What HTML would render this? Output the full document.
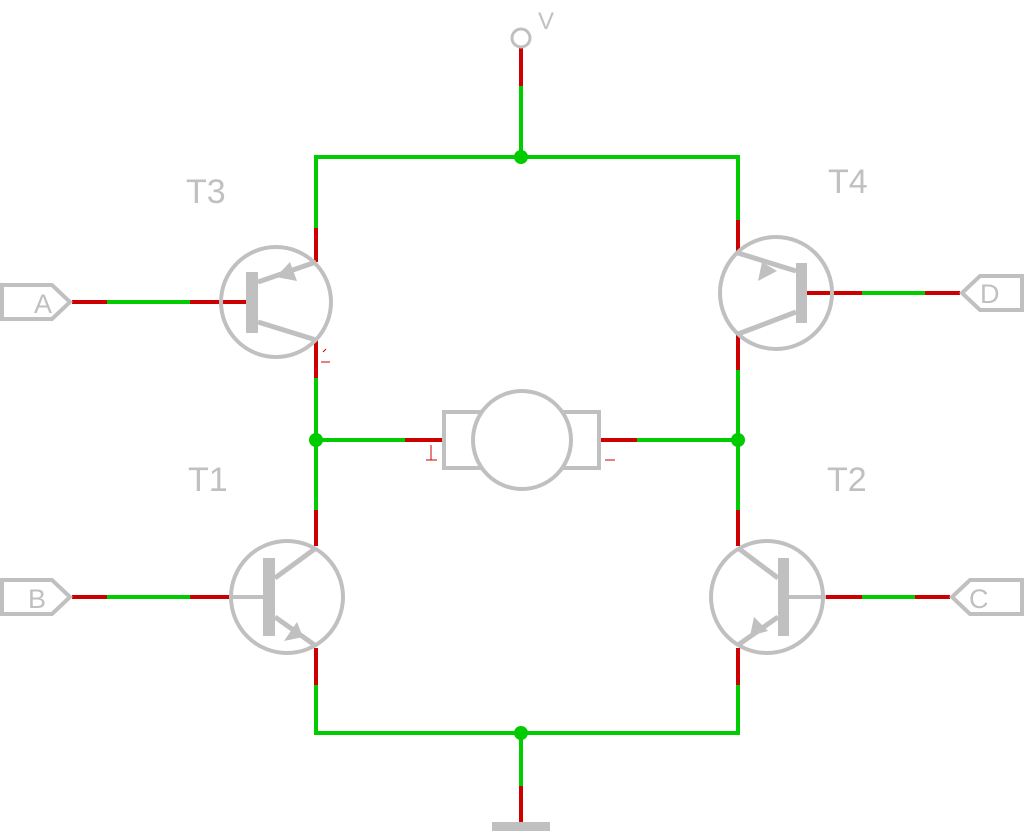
<!DOCTYPE html>
<html><head><style>html,body{margin:0;padding:0;background:#fff}svg{display:block}</style></head>
<body>
<svg width="1024" height="832" viewBox="0 0 1024 832" xmlns="http://www.w3.org/2000/svg" font-family="Liberation Sans, sans-serif">
<g stroke-width="4" fill="none" stroke-linecap="butt">
<g stroke="#00cc00">
<line x1="521" y1="86" x2="521" y2="157"/>
<line x1="316" y1="157" x2="738" y2="157"/>
<line x1="316" y1="155" x2="316" y2="228"/>
<line x1="738" y1="155" x2="738" y2="220"/>
<line x1="316" y1="378" x2="316" y2="510"/>
<line x1="738" y1="370" x2="738" y2="510"/>
<line x1="316" y1="440" x2="405" y2="440"/>
<line x1="637" y1="440" x2="738" y2="440"/>
<line x1="316" y1="685" x2="316" y2="735"/>
<line x1="738" y1="685" x2="738" y2="735"/>
<line x1="316" y1="733" x2="738" y2="733"/>
<line x1="521" y1="733" x2="521" y2="786"/>
<line x1="107" y1="302" x2="190" y2="302"/>
<line x1="107" y1="597" x2="190" y2="597"/>
<line x1="862" y1="293" x2="925" y2="293"/>
<line x1="862" y1="597" x2="915" y2="597"/>
</g>
<g stroke="#cc0000">
<line x1="521" y1="48" x2="521" y2="86"/>
<line x1="316" y1="228" x2="316" y2="262"/>
<line x1="316" y1="340" x2="316" y2="378"/>
<line x1="738" y1="220" x2="738" y2="253"/>
<line x1="738" y1="334" x2="738" y2="370"/>
<line x1="316" y1="510" x2="316" y2="546"/>
<line x1="316" y1="648" x2="316" y2="685"/>
<line x1="738" y1="510" x2="738" y2="546"/>
<line x1="738" y1="648" x2="738" y2="685"/>
<line x1="405" y1="440" x2="442" y2="440"/>
<line x1="601" y1="440" x2="637" y2="440"/>
<line x1="521" y1="786" x2="521" y2="822"/>
<line x1="72" y1="302" x2="107" y2="302"/>
<line x1="190" y1="302" x2="248" y2="302"/>
<line x1="72" y1="597" x2="107" y2="597"/>
<line x1="190" y1="597" x2="230" y2="597"/>
<line x1="807" y1="293" x2="862" y2="293"/>
<line x1="925" y1="293" x2="960" y2="293"/>
<line x1="826" y1="597" x2="862" y2="597"/>
<line x1="915" y1="597" x2="950" y2="597"/>
</g>
<g stroke="#cc0000" stroke-width="1">
<line x1="321" y1="362" x2="330" y2="362"/><line x1="323" y1="352" x2="326" y2="349"/><line x1="426" y1="460" x2="437" y2="460"/><line x1="431" y1="445" x2="431" y2="460"/><line x1="605" y1="460" x2="615" y2="460"/>
</g>
<g stroke="#c0c0c0">
<circle cx="521" cy="38" r="9" stroke-width="3"/>
<circle cx="276" cy="302" r="55"/>
<circle cx="287" cy="597" r="56"/>
<circle cx="776" cy="293" r="56"/>
<circle cx="767" cy="597" r="56"/>
<line x1="258" y1="282" x2="316" y2="262" stroke-width="5"/>
<line x1="258" y1="322" x2="316" y2="340" stroke-width="5"/>
<line x1="230" y1="597" x2="263" y2="597"/>
<line x1="275" y1="578" x2="316" y2="548" stroke-width="5"/>
<line x1="275" y1="617" x2="316" y2="646" stroke-width="5"/>
<line x1="738" y1="253" x2="796" y2="271" stroke-width="5"/>
<line x1="738" y1="334" x2="796" y2="312" stroke-width="5"/>
<line x1="789" y1="597" x2="826" y2="597"/>
<line x1="738" y1="548" x2="778" y2="578" stroke-width="5"/>
<line x1="778" y1="617" x2="738" y2="645" stroke-width="5"/>
<rect x="444" y="412" width="155" height="56"/>
<path d="M2 285 H52 L70 302 L52 319 H2 Z"/>
<path d="M2 580 H52 L70 597 L52 614 H2 Z"/>
<path d="M1022 276 H980 L962 293 L980 310 H1022 Z"/>
<path d="M1022 580 H970 L952 597 L970 614 H1022 Z"/>
</g>
<circle cx="522" cy="440" r="49" fill="#fff" stroke="#c0c0c0" stroke-width="4"/>
</g>
<g fill="#c0c0c0">
<rect x="246" y="272" width="12" height="61"/>
<rect x="263" y="558" width="12" height="78"/>
<rect x="796" y="263" width="11" height="60"/>
<rect x="778" y="558" width="11" height="78"/>
<rect x="492" y="822" width="58" height="9"/>
<polygon points="276,277 290,262 297,281"/>
<polygon points="303,637 284,641 297,622"/>
<polygon points="777,271 762,262 758,281"/>
<polygon points="750,636 754,617 768,631"/>
</g>
<g fill="#00cc00">
<circle cx="521" cy="157" r="7"/><circle cx="521" cy="733" r="7"/>
<circle cx="316" cy="440" r="7"/><circle cx="738" cy="440" r="7"/>
</g>
<g fill="#c0c0c0" font-size="34">
<text x="186" y="203">T3</text>
<text x="828" y="193">T4</text>
<text x="188" y="491">T1</text>
<text x="827" y="491">T2</text>
</g>
<g fill="#c0c0c0" font-size="27">
<text x="538" y="29" font-size="24">V</text>
<text x="34" y="313">A</text>
<text x="28" y="608">B</text>
<text x="980" y="303">D</text>
<text x="969" y="608">C</text>
</g>
</svg>
</body></html>
